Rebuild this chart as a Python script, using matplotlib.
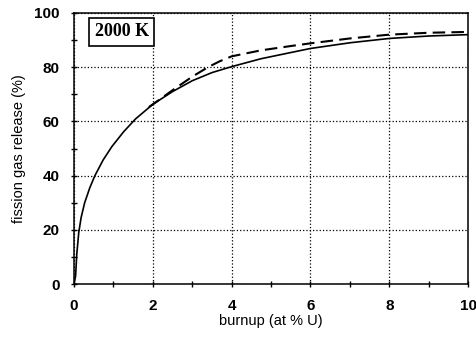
import matplotlib
matplotlib.use('Agg')
import matplotlib.pyplot as plt
from matplotlib.ticker import MultipleLocator

# solid curve
burnup = [0, 0.02, 0.04, 0.07, 0.12, 0.18, 0.27, 0.4, 0.53, 0.74, 0.96, 1.26, 1.56,
          2.0, 2.5, 3.0, 3.5, 4.0, 4.74, 5.5, 6.0, 7.0, 8.0, 9.0, 10.0]
release = [0, 1.5, 3, 11, 19, 24.5, 30, 35.5, 40, 45.8, 50.7, 56.2, 60.9,
           66.3, 71, 75, 78, 80.2, 83.1, 85.4, 86.9, 89, 90.6, 91.5, 92]

# dashed curve (departs from the solid one near 2 % U)
burnup2 = [1.9, 2.0, 2.5, 3.0, 3.4, 3.7, 4.0, 4.74, 5.5, 6.0, 7.0, 8.0, 9.0, 10.0]
release2 = [65.3, 66.3, 71.5, 76.5, 80, 82.2, 84.0, 86.2, 87.8, 88.8, 90.6, 92, 92.7, 93]

xticks = [0, 2, 4, 6, 8, 10]
yticks = [0, 20, 40, 60, 80, 100]

fig = plt.figure(figsize=(4.76, 3.41), dpi=100)
ax = fig.add_axes([0.1555, 0.167, 0.828, 0.795])

ax.plot(burnup, release, color='black', lw=1.2)
ax.plot(burnup2, release2, color='black', lw=1.5, dashes=(6, 3))

ax.set_xlim(0, 10)
ax.set_ylim(0, 100)
ax.set_xticks(xticks)
ax.set_yticks(yticks)
ax.xaxis.set_minor_locator(MultipleLocator(1))
ax.yaxis.set_minor_locator(MultipleLocator(10))
ax.tick_params(which='major', direction='inout', length=5, width=1, pad=8)
ax.tick_params(which='minor', direction='inout', length=5, width=1)
for lab in ax.get_xticklabels() + ax.get_yticklabels():
    lab.set_fontfamily('Liberation Sans')
    lab.set_fontweight('bold')
    lab.set_fontsize(11)

ax.grid(True, which='major', color='black', linestyle=':', linewidth=0.9)
for s in ax.spines.values():
    s.set_linewidth(1.1)
    s.set_color('black')

ax.set_xlabel('burnup (at % U)', fontfamily='Liberation Sans', fontsize=10.5, labelpad=1)
ax.set_ylabel('fission gas release (%)', fontfamily='Liberation Sans', fontsize=10.5, labelpad=6)

ax.text(1.21, 93.1, '2000 K', fontfamily='Liberation Serif', fontsize=13, fontweight='bold',
        ha='center', va='center',
        bbox=dict(boxstyle='square,pad=0.3', facecolor='white', edgecolor='black', lw=1.2))

plt.savefig('out.png', dpi=100)
